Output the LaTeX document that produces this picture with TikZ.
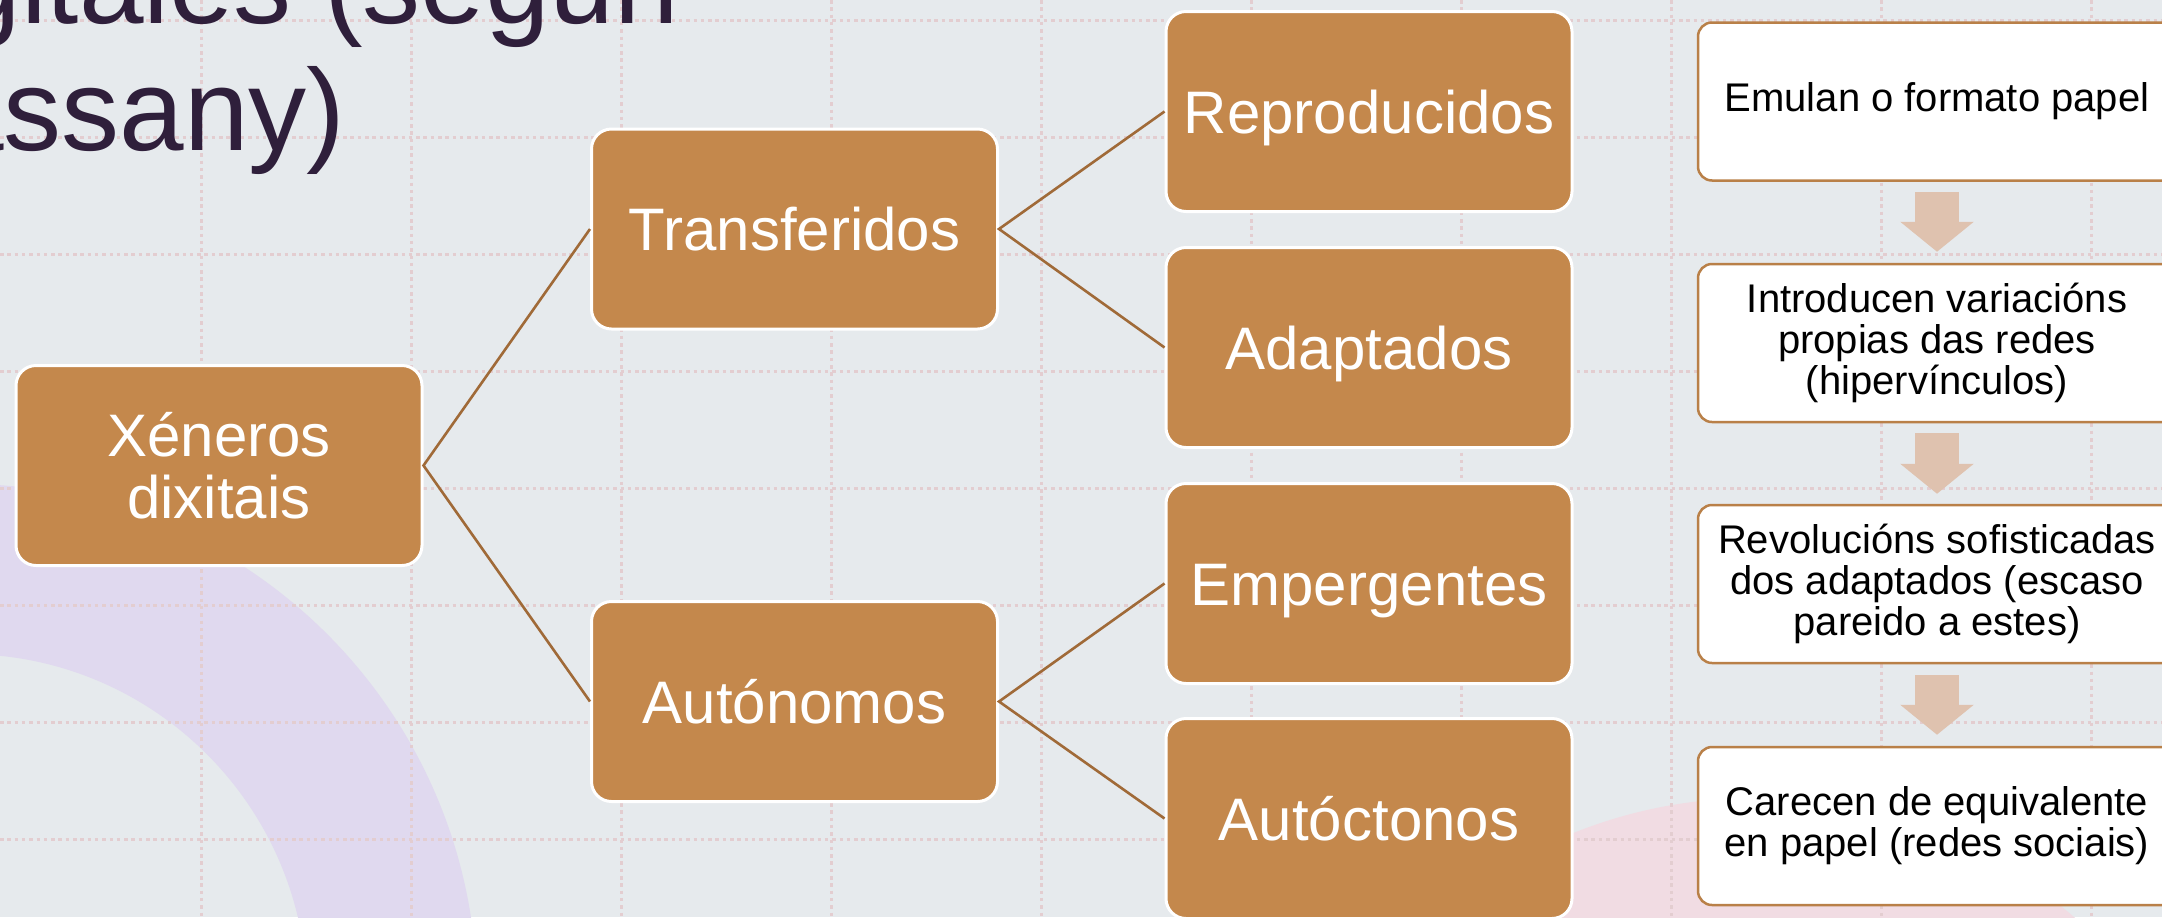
\documentclass[tikz,border=0pt]{standalone}
\usepackage{fontspec}
\setmainfont{Liberation Sans}
\usetikzlibrary{arrows.meta,calc}
\definecolor{bg}{HTML}{E6EAED}
\definecolor{boxfill}{HTML}{C4884C}
\definecolor{linkc}{HTML}{A06A38}
\definecolor{wborder}{HTML}{B98048}
\definecolor{arrowfill}{HTML}{DFC2AF}
\definecolor{ringc}{HTML}{E0D9EF}
\definecolor{blush}{HTML}{F1DCE3}
\definecolor{gridc}{HTML}{E3CDD0}
\definecolor{titlec}{HTML}{2F1F3B}
\begin{document}
\begin{tikzpicture}[x=0.5pt,y=-0.5pt,
  brownbox/.style={draw=white, line width=1.5pt, fill=boxfill, rounded corners=10pt,
    minimum width=203pt, minimum height=100pt, inner sep=0pt, text=white,
    font=\fontsize{30}{31}\selectfont, align=center},
  oneline/.style={text height=21.5pt, text depth=0pt},
  whitebox/.style={draw=wborder, line width=1.25pt, fill=white, rounded corners=7pt,
    minimum width=239pt, minimum height=79pt, inner sep=0pt, text=black,
    font=\fontsize{20}{20.5}\selectfont, align=center},
  linkline/.style={draw=linkc, line width=1.3pt},
  blockarrow/.style={draw=arrowfill, line width=22pt, -{Triangle[length=15pt,width=36pt]}},
  gridline/.style={draw=gridc, line width=1.5pt, dash pattern=on 1.75pt off 1.9pt},
  titletext/.style={text=titlec, font=\fontsize{58}{64}\selectfont, inner sep=0pt, anchor=base west}
]
\useasboundingbox (0,0) rectangle (2162,917);
\clip (0,0) rectangle (2162,917);
\fill[bg] (0,0) rectangle (2162,917);
% background blobs
\fill[ringc, even odd rule] (-35,996) circle[radius=256pt] (-35,996) circle[radius=171pt];
\fill[blush] (1755,1285) circle[radius=243.5pt];
% grid
\foreach \y in {20,137,254,371,488,605,722,839}
  \draw[gridline] (0,\y) -- (2162,\y);
\foreach \x in {201,411,621,831,1041,1251,1461,1671,1881,2091}
  \draw[gridline] (\x,0) -- (\x,917);
% title
\node[titletext] (t1) at (-134,23) {digitales (según};
\node[titletext] (t2) at (-145,150) {Cassany)};
% hierarchy
\node[brownbox] (xen) at (219,465.5) {Xéneros\\dixitais};
\node[brownbox, oneline] (tra) at (794.5,229) {Transferidos};
\node[brownbox, oneline] (aut) at (794.5,701.5) {Autónomos};
\node[brownbox, oneline] (rep) at (1369,111.5) {Reproducidos};
\node[brownbox, oneline] (ada) at (1369,347.5) {Adaptados};
\node[brownbox, oneline] (emp) at (1369,583.5) {Empergentes};
\node[brownbox, oneline] (auc) at (1369,818.5) {Autóctonos};
\draw[linkline] (tra.west) -- (xen.east) -- (aut.west);
\draw[linkline] (rep.west) -- (tra.east) -- (ada.west);
\draw[linkline] (emp.west) -- (aut.east) -- (auc.west);
% process column
\node[whitebox] (w1) at (1937,101.5) {Emulan o formato papel};
\node[whitebox] (w2) at (1937,343) {Introducen variacións\\propias das redes\\(hipervínculos)};
\node[whitebox] (w3) at (1937,584) {Revolucións sofisticadas\\dos adaptados (escaso\\pareido a estes)};
\node[whitebox] (w4) at (1937,826) {Carecen de equivalente\\en papel (redes sociais)};
\draw[blockarrow] ($(w1.south)+(0,10)$) -- ($(w2.north)+(0,-11)$);
\draw[blockarrow] ($(w2.south)+(0,10)$) -- ($(w3.north)+(0,-10)$);
\draw[blockarrow] ($(w3.south)+(0,11)$) -- ($(w4.north)+(0,-11)$);
\end{tikzpicture}
\end{document}
